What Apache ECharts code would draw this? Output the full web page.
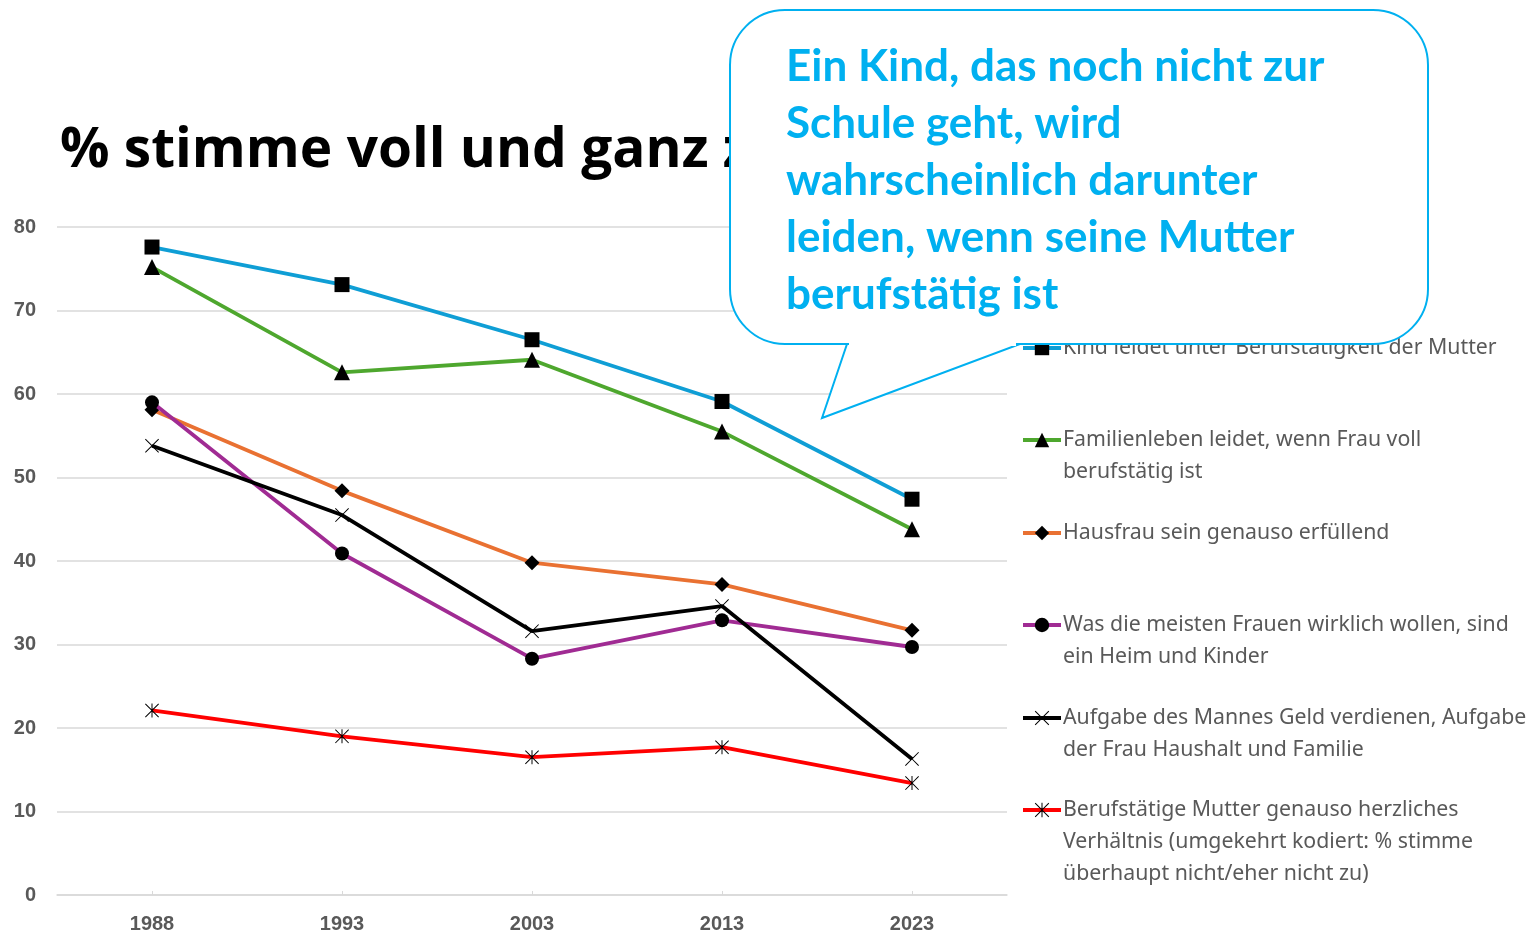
<!DOCTYPE html>
<html>
<head>
<meta charset="utf-8">
<script src="https://cdn.jsdelivr.net/npm/echarts@6/dist/echarts.min.js"></script>
<style>
  html, body { margin: 0; padding: 0; background: #fff; }
  #main { width: 1534px; height: 934px; }
</style>
</head>
<body>
<div id="main"></div>
<script>
// Jahre der Erhebung
var years = ['1988', '1993', '2003', '2013', '2023'];

// Werte je Aussage (% stimme voll und ganz zu)
var kindLeidet   = [77.6, 73.1, 66.5, 59.1, 47.4];
var familie      = [75.2, 62.6, 64.1, 55.5, 43.8];
var hausfrau     = [58.1, 48.4, 39.8, 37.2, 31.7];
var heimKinder   = [59.0, 40.9, 28.3, 32.9, 29.7];
var aufgabeMann  = [53.8, 45.5, 31.6, 34.6, 16.3];
var herzlich     = [22.1, 19.0, 16.5, 17.7, 13.4];

var yTicks = [0, 10, 20, 30, 40, 50, 60, 70, 80];

var names = [
  'Kind leidet unter Berufstätigkeit der Mutter',
  'Familienleben leidet, wenn Frau voll berufstätig ist',
  'Hausfrau sein genauso erfüllend',
  'Was die meisten Frauen wirklich wollen, sind ein Heim und Kinder',
  'Aufgabe des Mannes Geld verdienen, Aufgabe der Frau Haushalt und Familie',
  'Berufstätige Mutter genauso herzliches Verhältnis (umgekehrt kodiert: % stimme überhaupt nicht/eher nicht zu)'
];
// Zeilenumbrüche wie in der Legende des Originals
var legendLines = [
  ['Kind leidet unter Berufstätigkeit der Mutter'],
  ['Familienleben leidet, wenn Frau voll', 'berufstätig ist'],
  ['Hausfrau sein genauso erfüllend'],
  ['Was die meisten Frauen wirklich wollen, sind', 'ein Heim und Kinder'],
  ['Aufgabe des Mannes Geld verdienen, Aufgabe', 'der Frau Haushalt und Familie'],
  ['Berufstätige Mutter genauso herzliches', 'Verhältnis (umgekehrt kodiert: % stimme', 'überhaupt nicht/eher nicht zu)']
];

var calloutText = 'Ein Kind, das noch nicht zur\nSchule geht, wird\nwahrscheinlich darunter\nleiden, wenn seine Mutter\nberufstätig ist';

var crossPath = 'path://M1,0 L10,9 L19,0 L20,1 L11,10 L20,19 L19,20 L10,11 L1,20 L0,19 L9,10 L0,1 Z';
var starPath = 'path://M1,0 L10,9 L19,0 L20,1 L11,10 L20,19 L19,20 L10,11 L1,20 L0,19 L9,10 L0,1 Z M9.3,0 L10.7,0 L10.7,20 L9.3,20 Z';

var colors = ['#0F9ED5', '#4EA72E', '#E97132', '#A02B93', '#000000', '#FF0000'];
var values = [kindLeidet, familie, hausfrau, heimKinder, aufgabeMann, herzlich];
var symbols = ['rect', 'triangle', 'diamond', 'circle', crossPath, starPath];
var symbolSizes = [15, 16, 15, 14, 14, 14];

var myChart = echarts.init(document.getElementById('main'));

var series = [];
for (var i = 0; i < names.length; i++) {
  series.push({
    name: names[i],
    type: 'line',
    data: values[i],
    symbol: symbols[i],
    symbolSize: symbolSizes[i],
    showAllSymbol: true,
    lineStyle: { color: colors[i], width: 3.8 },
    itemStyle: { color: '#000', borderWidth: 0 },
    emphasis: { disabled: true },
    z: 2 + i
  });
}

// eine Legende pro Eintrag, damit die Abstände wie im Original sind;
// leere Zeilen oben halten das Symbol auf Höhe der ersten Textzeile
var lh = 32;
var firstLineY = [348, 440, 533, 625, 718, 810];
var legends = [];
for (var k = 0; k < names.length; k++) {
  var n = legendLines[k].length;
  var pad = '';
  for (var p = 1; p < n; p++) pad += '\n';
  legends.push({
    data: [names[k]],
    left: 1021,
    top: firstLineY[k] - (2 * n - 1) * lh / 2,
    padding: 0,
    itemWidth: 38,
    itemHeight: 18,
    itemGap: 0,
    selectedMode: false,
    lineStyle: { width: 4 },
    formatter: (function (txt) { return function () { return txt; }; })(pad + legendLines[k].join('\n')),
    textStyle: {
      fontFamily: 'Noto Sans',
      fontSize: 21.3,
      color: '#595959',
      lineHeight: lh,
      padding: [0, 0, 0, -3]
    }
  });
}

var option = {
  animation: false,
  backgroundColor: '#fff',
  title: {
    text: '% stimme voll und ganz zu',
    left: 60,
    top: 124,
    padding: 0,
    textStyle: {
      fontFamily: 'Open Sans',
      fontWeight: 'bold',
      fontSize: 55,
      color: '#000'
    }
  },
  legend: legends,
  grid: { left: 57, right: 527, top: 227, bottom: 38, containLabel: false },
  xAxis: {
    type: 'category',
    data: years,
    boundaryGap: true,
    axisLine: { lineStyle: { color: '#d9d9d9', width: 1.5 } },
    axisTick: { show: true, inside: true, alignWithLabel: true, length: 4, lineStyle: { color: '#d9d9d9' } },
    axisLabel: { fontFamily: 'Liberation Sans', fontWeight: 'bold', fontSize: 20, color: '#595959', margin: 19 }
  },
  yAxis: {
    type: 'value',
    min: yTicks[0],
    max: yTicks[yTicks.length - 1],
    interval: 10,
    axisLine: { show: false },
    axisTick: { show: false },
    axisLabel: { fontFamily: 'Liberation Sans', fontWeight: 'bold', fontSize: 20, color: '#595959', margin: 21 },
    splitLine: { lineStyle: { color: '#d9d9d9', width: 1.5 } }
  },
  series: series,
  graphic: [
    {
      type: 'rect',
      z: 100,
      shape: { x: 730, y: 10, width: 698, height: 334, r: 55 },
      style: { fill: '#fff', stroke: '#00B0F0', lineWidth: 2 }
    },
    {
      type: 'polygon',
      z: 101,
      shape: { points: [[847, 344], [822, 418], [1020, 344]] },
      style: { fill: '#fff', stroke: '#00B0F0', lineWidth: 2 }
    },
    {
      type: 'line',
      z: 102,
      shape: { x1: 849, y1: 344, x2: 1016, y2: 344 },
      style: { stroke: '#fff', lineWidth: 4 }
    },
    {
      type: 'text',
      z: 103,
      left: 786,
      top: 38,
      style: {
        text: calloutText,
        fontFamily: 'Lato',
        fontWeight: 'bold',
        fontSize: 44,
        lineHeight: 57,
        fill: '#00B0F0'
      }
    }
  ]
};

myChart.setOption(option);
</script>
</body>
</html>
